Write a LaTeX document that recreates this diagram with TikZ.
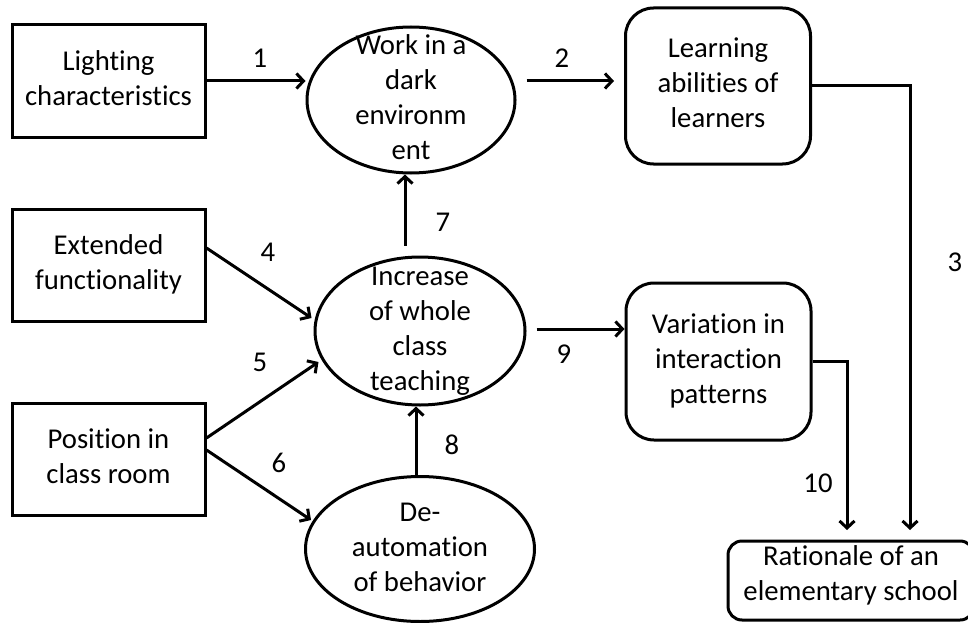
\documentclass[tikz,border=0pt]{standalone}
\usepackage{fontspec}
\setmainfont{Carlito}[Ligatures=NoCommon]
\usetikzlibrary{arrows.meta,calc,shapes.geometric}
\begin{document}
\begin{tikzpicture}[x=1pt,y=-1pt,
  every node/.style={font=\fontsize{28.7}{35}\selectfont},
  txt/.style={align=center, inner sep=0pt},
  sqbox/.style={draw, line width=3pt, minimum width=193pt, minimum height=112pt, txt},
  rbox/.style={draw, line width=3pt, rounded corners=28pt,
    minimum width=185pt, minimum height=156pt, txt},
  ell/.style={draw, ellipse, line width=3pt, inner sep=0pt},
  num/.style={inner sep=0pt},
  arr/.style={line width=3pt, -{Straight Barb[length=7pt,width=15pt]}}
]
\useasboundingbox (0,0) rectangle (968,623);

% left-hand input boxes
\node[sqbox] (light) at (108.5,81)  {\strut Lighting\\characteristics\strut};
\node[sqbox] (ext)   at (108.5,265) {\strut Extended\\functionality\strut};
\node[sqbox] (pos)   at (108.5,459) {\strut Position in\\class room\strut};

% middle ellipses
\node[ell, minimum width=208pt, minimum height=146pt] (work) at (411,100) {};
\node[txt] (workT) at (work.center) {\strut Work in a\\dark\\environm\\ent\strut};
\node[ell, minimum width=210pt, minimum height=148pt] (inc) at (420,331) {};
\node[txt] (incT) at (inc.center) {\strut Increase\\of whole\\class\\teaching\strut};
\node[ell, minimum width=229pt, minimum height=145pt] (deaut) at (420,549) {};
\node[txt] (deautT) at (deaut.center) {\strut De-\\automation\\of behavior\strut};

% right-hand outcome boxes
\node[rbox] (learn) at (718,86) {\strut Learning\\abilities of\\learners\strut};
\node[rbox, minimum height=157pt] (var) at (718.5,361.5) {\strut Variation in\\interaction\\patterns\strut};
\node[draw, line width=3pt, rounded corners=14pt, minimum width=246pt,
      minimum height=79pt] (rat) at (851,580.5) {};
\node[txt] (ratT) at (851,575.5) {\strut Rationale of an\\elementary school\strut};

% free ends of the two elbow connectors
\coordinate (e3)  at (910,530);
\coordinate (e10) at (847,530);

% connectors
\draw[arr] (light.east) -- (light.east -| work.west);
\draw[arr] ($(work.east |- light.east)+(10,0)$) -- ($(learn.west |- light.east)+(-10,0)$);
\draw[arr] (learn.east) -| (e3);
\draw[arr] ($(ext.east)+(0,-17)$) -- ($(inc.west)+(-2,-13)$);
\draw[arr] ($(pos.east)+(0,-21)$) -- ($(inc.west)+(5,31)$);
\draw[arr] ($(pos.east)+(0,-9)$) -- ($(deaut.west)+(7,-29)$);
\draw[arr] ($(inc.north)+(-15,-10)$) -- ($(work.south)+(-6,0)$);
\draw[arr] ($(deaut.north)+(-4,0)$) -- ($(inc.south)+(-4,0)$);
\draw[arr] ($(inc.east)+(10,-2)$) -- ($(var.west |- inc.east)+(0,-2)$);
\draw[arr] (var.east) -| (e10);

% connector numbers
\node[num] (n1)  at (260,58)  {1};
\node[num] (n2)  at (562,58)  {2};
\node[num] (n3)  at (955,262) {3};
\node[num] (n4)  at (268,252) {4};
\node[num] (n5)  at (260,362) {5};
\node[num] (n6)  at (279,463) {6};
\node[num] (n7)  at (443,222) {7};
\node[num] (n8)  at (452,445) {8};
\node[num] (n9)  at (564,354) {9};
\node[num] (n10) at (818,483) {10};
\end{tikzpicture}
\end{document}
